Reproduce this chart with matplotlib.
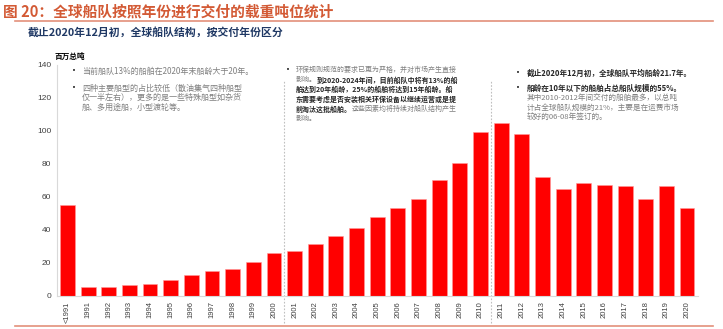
import matplotlib
matplotlib.use("Agg")
import matplotlib.pyplot as plt
from matplotlib.lines import Line2D

plt.rcParams["font.family"] = ["Noto Sans CJK SC", "DejaVu Sans"]

# data: delivered tonnage by build year (million GT)
years = ["<1991", "1991", "1992", "1993", "1994", "1995", "1996", "1997", "1998", "1999",
         "2000", "2001", "2002", "2003", "2004", "2005", "2006", "2007", "2008", "2009",
         "2010", "2011", "2012", "2013", "2014", "2015", "2016", "2017", "2018", "2019", "2020"]
tonnage = [55.0, 5.1, 5.0, 6.3, 6.9, 9.3, 12.5, 14.8, 16.0, 20.2,
           25.7, 27.0, 31.5, 36.0, 40.8, 47.7, 53.2, 58.6, 70.1, 80.2,
           99.2, 104.7, 97.8, 72.1, 64.8, 68.3, 66.9, 66.3, 58.4, 66.5, 53.2]
yticks = [0, 20, 40, 60, 80, 100, 120, 140]

title = "图 20：全球船队按照年份进行交付的载重吨位统计"
subtitle = "截止2020年12月初，全球船队结构，按交付年份区分"
unit = "百万总吨"

RED = "#ff0000"
GREY = "#7f7f7f"
DARK = "#262626"
LINE = "#e3907a"

fig = plt.figure(figsize=(7.23, 3.29), dpi=100)
ax = fig.add_axes([0.0784, 0.1012, 0.887, 0.7021])

x = range(len(years))
ax.bar(x, tonnage, width=0.72, color=RED, edgecolor="#ff9999", linewidth=0.4, zorder=2)
ax.set_xlim(-0.52, len(years) - 0.47)
ax.set_ylim(0, 140)
ax.set_yticks(yticks)
ax.set_xticks(list(x))
ax.set_xticklabels(years, rotation=90, fontsize=5.5, color="#404040", family="Liberation Sans")
ax.set_yticklabels([str(v) for v in yticks], fontsize=6, color="#404040", family="Liberation Sans")
ax.tick_params(length=0, pad=4)
for s in ["top", "right"]:
    ax.spines[s].set_visible(False)
for s in ["left", "bottom"]:
    ax.spines[s].set_color("#d9d9d9")
    ax.spines[s].set_linewidth(0.8)

# dotted separators between the periods
for xs in [10.5, 20.5]:
    ax.axvline(xs, ymin=-0.12, ymax=0.93, color="#bfbfbf", linestyle=(0, (1.5, 1.5)),
               linewidth=0.8, clip_on=False)

# header
fig.text(0.004, 0.965, title, fontsize=10.6, color="#d35a35", weight="bold", va="center")
fig.add_artist(Line2D([0.021, 0.986], [0.935, 0.935], color=LINE, linewidth=1.2))
fig.text(0.039, 0.900, subtitle, fontsize=7.8, color="#1f3864", weight="bold", va="center")
fig.text(0.076, 0.829, unit, fontsize=5.5, color="#000000", weight="bold", va="center")
fig.add_artist(Line2D([0.021, 0.986], [0.008, 0.008], color=LINE, linewidth=1.2))


def rich_line(x0, y0, parts, size):
    """Write a line made of (text, bold) pieces, one after the other."""
    last = None
    for s, bold in parts:
        kw = dict(fontsize=size, color=DARK if bold else GREY,
                  weight="bold" if bold else "normal", va="center")
        if last is None:
            last = fig.text(x0, y0, s, **kw)
        else:
            last = ax.annotate(s, xy=(1, 0.5), xycoords=last, ha="left",
                               annotation_clip=False, **kw)


def bullet(xb, y0, size):
    fig.text(xb, y0, "•", fontsize=size, color=DARK, va="center", family="DejaVu Sans")


def px(xp, yp):
    return xp / 723, 1 - yp / 329


# box 1
bullet(*px(72, 71), 5)
rich_line(*px(82, 71), [("当前船队13%的船舶在2020年末船龄大于20年。", False)], 5.8)
bullet(*px(72, 88), 5)
box1 = ["四种主要船型的占比较低（散油集气四种船型",
        "仅一半左右），更多的是一些特殊船型如杂货",
        "船、多用途船，小型渡轮等。"]
for i, s in enumerate(box1):
    rich_line(*px(82, 88 + 9.6 * i), [(s, False)], 5.8)

# box 2
bullet(*px(286, 70), 5)
box2 = [[("环保规则规范的要求已更为严格，并对市场产生直接", False)],
        [("影响。", False), ("到2020-2024年间，目前船队中将有13%的船", True)],
        [("舶达到20年船龄，25%的船舶将达到15年船龄。船", True)],
        [("东需要考虑是否安装相关环保设备以继续运营或是提", True)],
        [("前淘汰这批船舶。", True), ("这些因素均将持续对船队结构产生", False)],
        [("影响。", False)]]
for i, parts in enumerate(box2):
    rich_line(*px(296, 70 + 9.8 * i), parts, 5.0)

# box 3
bullet(*px(516, 73), 5)
rich_line(*px(527, 73), [("截止2020年12月初，全球船队平均船龄21.7年。", True)], 5.5)
bullet(*px(516, 88), 5)
box3 = [[("船龄在10年以下的船舶占总船队规模的55%。", True)],
        [("其中2010-2012年间交付的船舶最多，以总吨", False)],
        [("计占全球船队规模的21%，主要是在运费市场", False)],
        [("较好的06-08年签订的。", False)]]
for i, parts in enumerate(box3):
    rich_line(*px(527, 88 + 9.7 * i), parts, 5.5)

fig.savefig("out.png", dpi=100)
